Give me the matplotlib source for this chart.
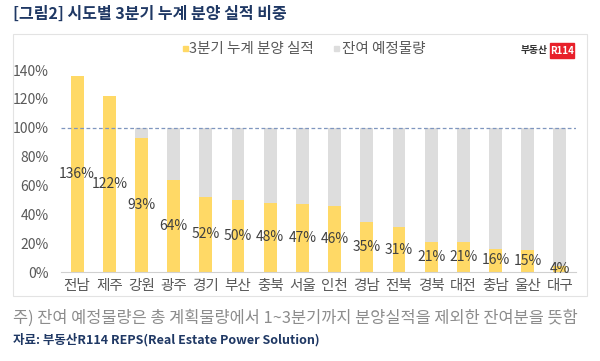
import numpy as np
import matplotlib
matplotlib.use('Agg')
import matplotlib.pyplot as plt
from matplotlib.patches import Rectangle

plt.rcParams['font.family'] = ['Noto Sans CJK KR', 'DejaVu Sans']

# data
regions = ['전남', '제주', '강원', '광주', '경기', '부산', '충북', '서울',
           '인천', '경남', '전북', '경북', '대전', '충남', '울산', '대구']
sold = [136, 122, 93, 64, 52, 50, 48, 47, 46, 35, 31, 21, 21, 16, 15, 4]
remain = [max(0, 100 - v) for v in sold]
yticks = [0, 20, 40, 60, 80, 100, 120, 140]

YELLOW = '#FFD966'
GREY = '#DDDDDD'
TXT = '#595959'
NAVY = '#1F3864'


def fig_rect(fig, x, y, w, h, **kw):
    """Add a rectangle given in pixel coords (top-left origin)."""
    fig.patches.append(Rectangle((x/600, 1-(y+h)/361), w/600, h/361,
                                 transform=fig.transFigure, **kw))


fig = plt.figure(figsize=(6, 3.61), dpi=100)

# chart frame
fig_rect(fig, 13, 34, 574, 262, fill=False, ec='#E3E3E3', lw=0.8)

ax = fig.add_axes([61/600, 89/361, 515/600, 202/361])
x = np.arange(len(regions))
ax.bar(x, sold, width=0.4, color=YELLOW, zorder=2)
ax.bar(x, remain, width=0.4, bottom=sold, color=GREY, zorder=2)
ax.axhline(100, color='#7F96BF', ls=(0, (3, 2)), lw=0.9, zorder=3)

for xi, v in zip(x, sold):
    ax.text(xi, v / 2, f'{v}%', ha='center', va='center', fontsize=10,
            color='#404040', zorder=4)

ax.set_xlim(-0.5, len(regions) - 0.5)
ax.set_ylim(0, 140)
ax.set_yticks(yticks)
ax.set_yticklabels([f'{t}%' for t in yticks], fontsize=10, color=TXT)
ax.set_xticks(x)
ax.set_xticklabels(regions, fontsize=10.5, color=TXT)
ax.tick_params(length=0, pad=5)
ax.tick_params(axis='y', pad=9)
for s in ['top', 'right', 'left']:
    ax.spines[s].set_visible(False)
ax.spines['bottom'].set_color('#D0D0D0')

# legend
fig_rect(fig, 183, 46, 5, 5, color=YELLOW)
fig.text(189/600, 1-49/361, '3분기 누계 분양 실적', fontsize=10.5, color=TXT,
         va='center')
fig_rect(fig, 334, 46, 5, 5, color=GREY)
fig.text(342/600, 1-49/361, '잔여 예정물량', fontsize=10.5, color=TXT,
         va='center')

# logo
fig.text(548/600, 1-50/361, '부동산', fontsize=7, color='#333333',
         ha='right', va='center', fontweight='bold')
fig_rect(fig, 550, 43, 24, 15, color='#E8202A')
fig.text(562/600, 1-50.5/361, 'R114', fontsize=7, color='white',
         ha='center', va='center', fontweight='bold')

# title and notes
fig.text(13/600, 1-14/361, '[그림2] 시도별 3분기 누계 분양 실적 비중',
         fontsize=11.5, fontweight='bold', color=NAVY, va='center')
fig.text(13/600, 1-318/361,
         '주) 잔여 예정물량은 총 계획물량에서 1~3분기까지 분양실적을 제외한 잔여분을 뜻함',
         fontsize=11.8, color='#8C8C8C', va='center')
fig.text(13/600, 1-340/361, '자료: 부동산R114 REPS(Real Estate Power Solution)',
         fontsize=9, fontweight='bold', color=NAVY, va='center')

fig.savefig('out.png', dpi=100)
